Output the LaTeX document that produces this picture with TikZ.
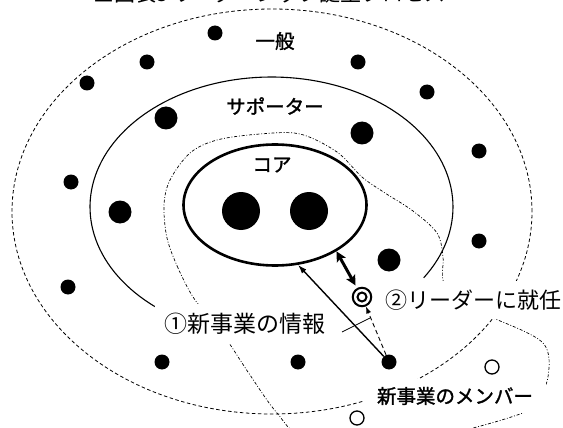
\documentclass[tikz,border=0pt]{standalone}
\usepackage{fontspec}
\setmainfont{Noto Sans CJK JP}
\newfontfamily\gothmed{Noto Sans CJK JP}[FakeBold=1.4]
\usetikzlibrary{shapes.geometric, arrows.meta}
\begin{document}
\begin{tikzpicture}[x=1pt,y=-1pt,
  dotS/.style={circle,fill=black,inner sep=0pt,minimum size=15pt},
  dotM/.style={circle,fill=black,inner sep=0pt,minimum size=23pt},
  dotL/.style={circle,fill=black,inner sep=0pt,minimum size=38pt},
  ocirc/.style={circle,draw=black,line width=1.3pt,inner sep=0pt,minimum size=14pt},
  lbl/.style={font=\gothmed\fontsize{19.5}{19.5}\selectfont, inner sep=0pt},
  dashdotline/.style={line width=0.7pt, draw=black, dash pattern=on 3pt off 1.8pt on 0.9pt off 1.8pt},
  outerdash/.style={line width=0.8pt, dash pattern=on 3.5pt off 2.5pt},
]
\useasboundingbox (0,0) rectangle (563,428);
\begin{scope}
\clip (0,0) rectangle (563,428);
% title (cut off at the top)
\node[anchor=base west, inner sep=0pt, font=\fontsize{21}{21}\selectfont] (title) at (93,1.5) {■図表3 リーダーシップ誕生プロセス};
% outer dashed ellipse (一般)
\node[ellipse, draw, outerdash, minimum width=520pt, minimum height=405pt, inner sep=0pt] (gen) at (272,211.5) {};
% new business region (dash-dot)
\draw[dashdotline] plot[smooth cycle, tension=0.55] coordinates {
 (193,297) (178,268) (167,238) (164,205) (170,180) (190,153) (217,140) (260,134) (300,134)
 (337,152) (362,177) (385,193) (413,211) (437,233) (443,257) (443,280) (455,305) (493,318)
 (543,343) (548,377) (535,405) (523,413) (473,428) (390,447) (305,437) (277,413) (250,375) (227,340) (210,318)};
% supporter ellipse (open arc)
\draw[line width=1.1pt] plot[domain=130:393, samples=120, variable=\t] ({271.5+181.5*cos(\t)},{207+130*sin(\t)});
\end{scope}
% labels with white background
\node[font=\fontsize{23}{23}\selectfont, fill=white, inner xsep=9.5pt, inner ysep=9.5pt] (lab1) at (245,324) {①新事業の情報};
\node[font=\fontsize{22}{22}\selectfont, fill=white, inner xsep=2pt, inner ysep=9pt] (lab2) at (473,300) {②リーダーに就任};
\node[lbl, fill=white, inner xsep=13pt, inner ysep=8pt] (lab3) at (455,396) {新事業のメンバー};
\node[lbl] (lgen) at (275,41) {一般};
\node[lbl] (lsup) at (275,106) {サポーター};
\node[lbl] (lcore) at (272,165) {コア};
% core
\node[ellipse, draw, line width=2.6pt, minimum width=183pt, minimum height=121pt, inner sep=0pt] (core) at (275,205) {};
\node[dotL] (c1) at (241,211) {};
\node[dotL] (c2) at (309,211) {};
% dots
\node[dotS] (t1) at (215,33) {};
\node[dotS] (t2) at (147,62) {};
\node[dotS] (t3) at (87,83) {};
\node[dotS] (t4) at (358,62) {};
\node[dotS] (t5) at (427,92) {};
\node[dotS] (t6) at (479,151) {};
\node[dotS] (t7) at (71,182) {};
\node[dotS] (t8) at (479,241) {};
\node[dotS] (t9) at (68,287) {};
\node[dotS] (t10) at (162,362) {};
\node[dotS] (t11) at (298,362) {};
\node[dotS] (m) at (389,362) {};
\node[dotM] (s1) at (166,118) {};
\node[dotM] (s2) at (120,212) {};
\node[dotM] (s3) at (362,133) {};
\node[dotM] (s4) at (389,260) {};
\node[ocirc] (o1) at (492,367) {};
\node[ocirc] (o2) at (357,418) {};
% leader (double circle)
\node[circle, draw, line width=2pt, minimum size=18.5pt, inner sep=0pt] (dc) at (362,297) {};
\node[circle, draw, line width=2pt, minimum size=9pt, inner sep=0pt] (dci) at (dc) {};
% arrows
\draw[line width=3pt, {Stealth[length=10pt,width=10pt,inset=2pt]}-{Stealth[length=10pt,width=10pt,inset=2pt]}, shorten >=3pt] (core.-37) -- (dc);
\draw[line width=1.4pt, -{Latex[length=9pt,width=6pt]}] (m) -- (core.-69);
\draw[line width=0.9pt, dash pattern=on 4.5pt off 3pt, -{Latex[length=7pt,width=5pt]}] (m) -- (dc);
\coordinate (l1a) at (342,332);
\coordinate (l1b) at (370,318);
\draw[line width=0.7pt] (l1a) -- (l1b);
\end{tikzpicture}
\end{document}
